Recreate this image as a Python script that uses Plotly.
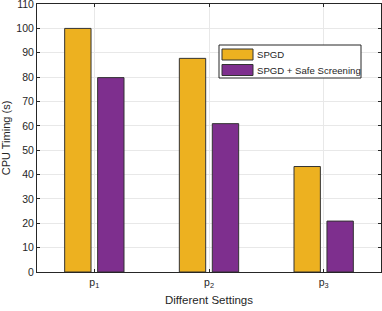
import plotly.graph_objects as go

categories = [1, 2, 3]
tick_labels = ["p<sub>1</sub>", "p<sub>2</sub>", "p<sub>3</sub>"]
series_names = ["SPGD", "SPGD + Safe Screening"]
spgd = [100.0, 87.7, 43.3]
spgd_safe = [79.8, 60.9, 20.9]
y_ticks = [0, 10, 20, 30, 40, 50, 60, 70, 80, 90, 100, 110]

colors = ["#EDB120", "#7E2F8E"]
FONT = "Liberation Sans, Arial, sans-serif"
W, H = 382, 311
L, R, T, B = 37, 1, 4, 39
PW, PH = W - L - R, H - T - B

fig = go.Figure()
for name, vals, c in zip(series_names, [spgd, spgd_safe], colors):
    fig.add_trace(go.Bar(x=categories, y=vals, name=name, marker=dict(color=c, line=dict(color="#333333", width=1)),
                         showlegend=False))

def px(xp):
    return (xp - L) / PW

def py(yp):
    return (H - B - yp) / PH

# custom legend (MATLAB-style wide swatches)
shapes = [dict(type="rect", xref="paper", yref="paper", x0=px(219), x1=px(361), y0=py(78), y1=py(45),
               line=dict(color="#262626", width=1), fillcolor="white", layer="above")]
annotations = []
for i, (name, c) in enumerate(zip(series_names, colors)):
    top = 49 + i * 15.5
    shapes.append(dict(type="rect", xref="paper", yref="paper", x0=px(222), x1=px(253), y0=py(top + 11), y1=py(top),
                       line=dict(color="#333333", width=1), fillcolor=c, layer="above"))
    annotations.append(dict(xref="paper", yref="paper", x=px(255), y=py(top + 5.5), text=name, showarrow=False,
                            xanchor="left", yanchor="middle", font=dict(size=9.6, color="#262626", family=FONT)))

fig.update_layout(
    width=W, height=H, margin=dict(l=L, r=R, t=T, b=B, autoexpand=False),
    paper_bgcolor="white", plot_bgcolor="white",
    barmode="group", bargap=0.425, bargroupgap=0.2,
    font=dict(family=FONT, size=10.5, color="#262626"),
    shapes=shapes, annotations=annotations,
)
fig.update_xaxes(range=[0.5, 3.5], tickvals=categories, ticktext=tick_labels, automargin=False,
                 showgrid=True, gridcolor="#e8e8e8", gridwidth=1,
                 showline=True, linecolor="#262626", linewidth=1, mirror="ticks",
                 ticks="inside", ticklen=3, tickcolor="#262626",
                 title=dict(text="Different Settings", font=dict(size=11.5), standoff=7),
                 tickfont=dict(size=10.5))
fig.update_yaxes(range=[0, 110.02], tickvals=y_ticks, automargin=False, ticklabeloverflow="allow",
                 showgrid=True, gridcolor="#e8e8e8", gridwidth=1,
                 showline=True, linecolor="#262626", linewidth=1, mirror="ticks",
                 ticks="inside", ticklen=3, tickcolor="#262626",
                 title=dict(text="CPU Timing (s)", font=dict(size=11), standoff=3),
                 tickfont=dict(size=10.5), zeroline=False)

fig.write_html("out.html", config={"displayModeBar": False},
               post_script="document.body.style.margin='0';document.body.style.overflow='hidden';")
